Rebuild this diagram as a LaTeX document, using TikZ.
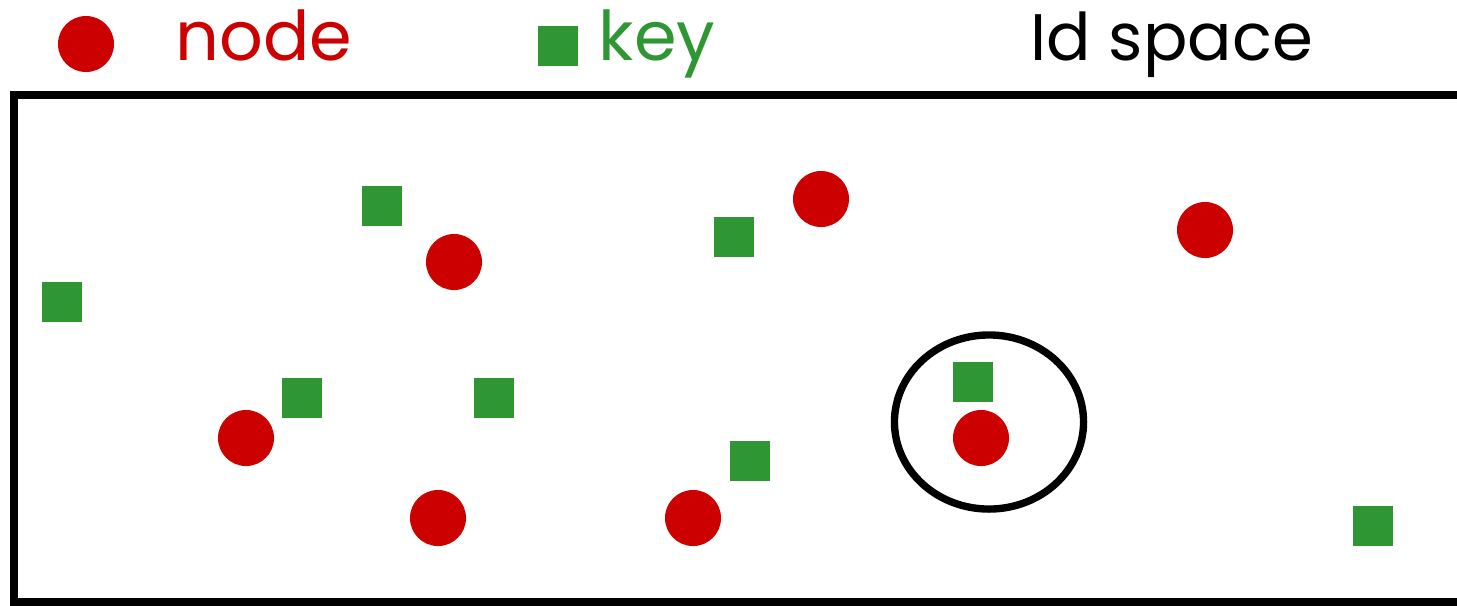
\documentclass[tikz,border=0pt]{standalone}
\usepackage{fontspec}
\setmainfont{Poppins}
\usetikzlibrary{shapes.geometric}
\definecolor{ruby}{RGB}{204,0,0}
\definecolor{leaf}{RGB}{46,150,50}
\tikzset{
  peer/.style={circle,fill=ruby,minimum size=5.6mm,inner sep=0pt},
  item/.style={rectangle,fill=leaf,minimum size=4mm,inner sep=0pt},
  legend/.style={font=\fontsize{19.5}{22}\selectfont,anchor=base west,inner sep=0pt},
  frame/.style={draw=black,line width=2.1pt},
}
\begin{document}
\begin{tikzpicture}[x=0.01cm,y=-0.01cm]
        \useasboundingbox (0,0) rectangle (1457,605);
        % legend
        \node[peer] (lnode) at (86,44) {};
        \node[legend,text=ruby] (tnode) at (175,60) {node};
        \node[item] (lkey) at (558,46) {};
        \node[legend,text=leaf] (tkey) at (598,60) {key};
        \node[legend,font=\fontsize{18.7}{22}\selectfont] (tspace) at (1030,60) {Id space};
        % the id space
        \begin{scope}
          \clip (0,0) rectangle (1457,605);
          \draw[frame] (14,95) rectangle (1480,602);
        \end{scope}
        \node[peer] (n1) at (821,199) {};
        \node[peer] (n2) at (1205,230) {};
        \node[peer] (n3) at (454,262) {};
        \node[peer] (n4) at (246,438) {};
        \node[peer] (n5) at (981,438) {};
        \node[peer] (n6) at (438,518) {};
        \node[peer] (n7) at (693,518) {};
        \node[item] (k1) at (382,206) {};
        \node[item] (k2) at (734,237) {};
        \node[item] (k3) at (62,302) {};
        \node[item] (k4) at (302,398) {};
        \node[item] (k5) at (494,398) {};
        \node[item] (k6) at (973,382) {};
        \node[item] (k7) at (750,461) {};
        \node[item] (k8) at (1373,526) {};
        \node[ellipse,frame,minimum width=18.9mm,minimum height=17.4mm] (zone) at (989,422) {};
      \end{tikzpicture}
\end{document}
